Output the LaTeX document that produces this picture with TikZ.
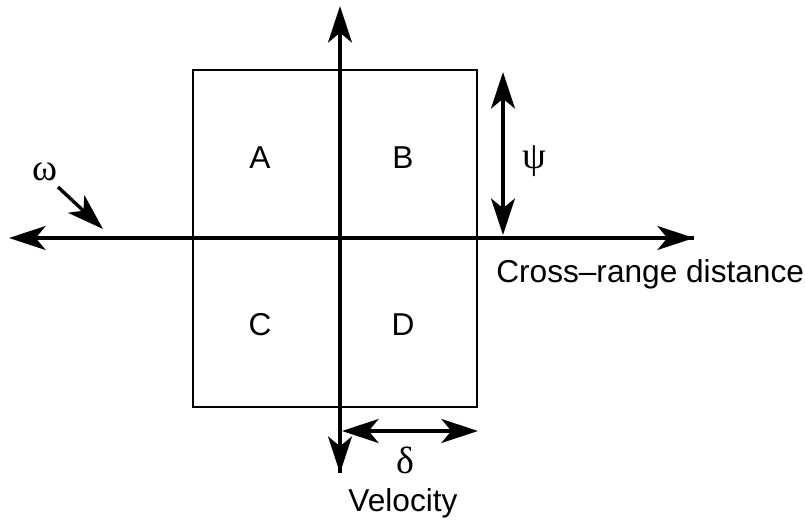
\documentclass[tikz,border=0pt]{standalone}
\usepackage{fontspec}
\setmainfont{Liberation Sans}
\newfontfamily\greekfont{Liberation Serif}
\usetikzlibrary{arrows.meta}

\begin{document}
\begin{tikzpicture}[x = 0.025cm, y = -0.025cm,
  tip/.tip = {Stealth[length = 26pt, width = 17pt, inset = 7pt]},
  axis/.style = {line width = 2.4pt, -tip},
  span/.style = {line width = 2.4pt, tip-tip},
  lbl/.style = {font = \fontsize{22.5}{27}\selectfont, inner sep = 0pt},
  glbl/.style = {font = \fontsize{27}{30}\selectfont\greekfont, inner sep = 0pt}]
\useasboundingbox (0, 0) rectangle (805, 523);
\draw[line width = 1.5pt] (193, 70) rectangle (477, 407);
\coordinate (vtop) at (340, 6);
\coordinate (vbot) at (340, 473);
\coordinate (hleft) at (9, 238);
\coordinate (hright) at (694, 238);
\draw[axis] (vbot) -- (vtop);
\draw[axis] (340, 238) -- (vbot);
\draw[axis] (hright) -- (hleft);
\draw[axis] (340, 238) -- (hright);
\node[lbl] (a) at (260, 158) {A};
\node[lbl] (b) at (403, 158) {B};
\node[lbl] (c) at (260, 325) {C};
\node[lbl] (d) at (403, 325) {D};
\coordinate (psitop) at (503, 72);
\coordinate (psibot) at (503, 235);
\draw[span] (psitop) -- (psibot);
\node[glbl] (psi) at (534, 161) {ψ};
\coordinate (dleft) at (342, 431);
\coordinate (dright) at (478, 431);
\draw[span] (dleft) -- (dright);
\node[glbl] (delta) at (405, 460) {δ};
\node[lbl] (vel) at (403, 503) {Velocity};
\node[lbl, anchor = west] (cross) at (496, 274) {Cross--range distance};
\node[glbl] (omega) at (45, 172) {ω};
\coordinate (otip) at (103, 229);
\draw[axis] (58, 187) -- (otip);
\end{tikzpicture}
\end{document}
